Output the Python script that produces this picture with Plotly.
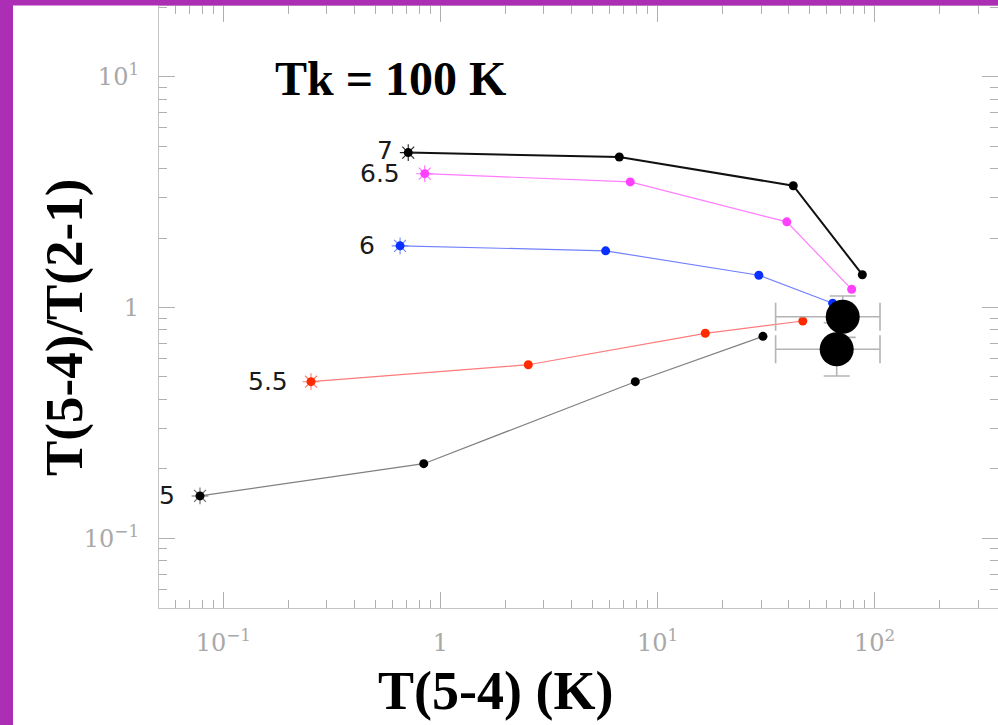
import math
import plotly.graph_objects as go

FIG_W, FIG_H = 998, 725
M_L, M_R, M_T, M_B = 159, 0, 6, 117

# Model tracks: T(5-4) [K] and T(5-4)/T(2-1), labelled by log density
track_labels = ["7", "6.5", "6", "5.5", "5"]
t54_7 = [0.711, 6.67, 42.2, 87.8]
ratio_7 = [4.69, 4.49, 3.37, 1.387]
t54_65 = [0.847, 7.49, 39.4, 78.4]
ratio_65 = [3.80, 3.50, 2.35, 1.199]
t54_6 = [0.652, 5.77, 29.3, 64.1]
ratio_6 = [1.85, 1.76, 1.379, 1.043]
t54_55 = [0.2535, 2.54, 16.6, 46.7]
ratio_55 = [0.477, 0.565, 0.773, 0.874]
t54_5 = [0.0781, 0.838, 7.90, 30.6]
ratio_5 = [0.1526, 0.2105, 0.477, 0.750]

# Observed points with errors
obs_t54 = [71.3, 66.9]
obs_t54_minus = [36.3, 31.9]
obs_t54_plus = [34.6, 39.0]
obs_ratio = [0.912, 0.659]
obs_ratio_minus = [0.17, 0.154]
obs_ratio_plus = [0.209, 0.20]

x_tickvals = [0.1, 1, 10, 100]
x_ticktext = ["10<sup>\u22121</sup>", "1", "10<sup>1</sup>", "10<sup>2</sup>"]
y_tickvals = [0.1, 1, 10]
y_ticktext = ["10<sup>\u22121</sup>", "1", "10<sup>1</sup>"]

tracks = [
    (t54_7, ratio_7, track_labels[0], "#111111", "#000000", 2.0, "#222222", -13, 2),
    (t54_65, ratio_65, track_labels[1], "#ff7cff", "#ff40ff", 1.2, "#ff70ff", -23, 0),
    (t54_6, ratio_6, track_labels[2], "#7080ff", "#0a30ff", 1.2, "#7084ff", -23, 0),
    (t54_55, ratio_55, track_labels[3], "#ff7a7a", "#ff2a00", 1.2, "#ff7a6a", -21, 0),
    (t54_5, ratio_5, track_labels[4], "#808080", "#000000", 1.2, "#666666", -23, 0),
]


def paper_x(px):
    return (px - M_L) / (FIG_W - M_L - M_R)


def paper_y(py):
    return (FIG_H - M_B - py) / (FIG_H - M_T - M_B)


fig = go.Figure()
annotations = []
for xs, ys, lab, lcol, mcol, lw, scol, xshift, yshift in tracks:
    fig.add_trace(go.Scatter(
        x=xs, y=ys, mode="lines", line=dict(color=lcol, width=lw),
        showlegend=False, hoverinfo="skip"))
    # starting point of each track: star behind the dot
    fig.add_trace(go.Scatter(
        x=[xs[0]], y=[ys[0]], mode="markers",
        marker=dict(symbol="asterisk-open", size=14, color=scol,
                    line=dict(color=scol, width=1.1)),
        showlegend=False, hoverinfo="skip"))
    fig.add_trace(go.Scatter(
        x=xs, y=ys, mode="markers",
        marker=dict(symbol="circle", size=9, color=mcol),
        showlegend=False))
    annotations.append(dict(
        x=math.log10(xs[0]), y=math.log10(ys[0]), xref="x", yref="y",
        text=lab, showarrow=False, xanchor="right", yanchor="middle",
        xshift=xshift, yshift=yshift,
        font=dict(family="DejaVu Sans", size=25, color="#1a1a1a")))

fig.add_trace(go.Scatter(
    x=obs_t54, y=obs_ratio, mode="markers",
    marker=dict(symbol="circle", size=34, color="#000000"),
    error_x=dict(type="data", symmetric=False, array=obs_t54_plus,
                 arrayminus=obs_t54_minus, color="#b4b4b4", thickness=1.6,
                 width=14),
    error_y=dict(type="data", symmetric=False, array=obs_ratio_plus,
                 arrayminus=obs_ratio_minus, color="#b4b4b4", thickness=1.6,
                 width=13),
    showlegend=False))

x_minor = [m * 10 ** e for e in range(-2, 3) for m in range(2, 10)]
y_minor = [m * 10 ** e for e in range(-2, 2) for m in range(2, 10)]

axis_common = dict(
    type="log", showgrid=False, zeroline=False,
    showline=True, linecolor="#c4c4c4", linewidth=1.2, mirror="allticks",
    ticks="inside", ticklen=16, tickwidth=1.2, tickcolor="#b0b0b0",
    tickfont=dict(family="DejaVu Serif", size=24, color="#a8a8a8"),
)

fig.update_xaxes(
    **axis_common, range=[-1.2962, 2.5684],
    tickvals=x_tickvals, ticktext=x_ticktext, ticklabelstandoff=13,
    minor=dict(tickvals=x_minor, ticks="inside", ticklen=8,
               tickcolor="#b0b0b0", tickwidth=1.1))
fig.update_yaxes(
    **axis_common, range=[-1.302, 1.3063],
    tickvals=y_tickvals, ticktext=y_ticktext, ticklabelstandoff=14,
    minor=dict(tickvals=y_minor, ticks="inside", ticklen=8,
               tickcolor="#b0b0b0", tickwidth=1.1))

annotations += [
    dict(text="<b>Tk = 100 K</b>", xref="paper", yref="paper",
         x=paper_x(390), y=paper_y(79), xanchor="center", yanchor="middle",
         showarrow=False,
         font=dict(family="Liberation Serif", size=48, color="#000000")),
    dict(text="<b>T(5-4) (K)</b>", xref="paper", yref="paper",
         x=paper_x(495), y=paper_y(691), xanchor="center", yanchor="middle",
         showarrow=False,
         font=dict(family="Liberation Serif", size=54, color="#000000")),
    dict(text="<b>T(5-4)/T(2-1)</b>", xref="paper", yref="paper",
         x=paper_x(64), y=paper_y(328), xanchor="center", yanchor="middle",
         textangle=-90, showarrow=False,
         font=dict(family="Liberation Serif", size=53, color="#000000")),
]

purple = "#ab2eb5"
shapes = [
    dict(type="rect", xref="paper", yref="paper", layer="above",
         x0=paper_x(0), x1=paper_x(13), y0=paper_y(FIG_H), y1=paper_y(0),
         fillcolor=purple, line=dict(width=0)),
    dict(type="rect", xref="paper", yref="paper", layer="above",
         x0=paper_x(0), x1=paper_x(FIG_W), y0=paper_y(5.5), y1=paper_y(0),
         fillcolor=purple, line=dict(width=0)),
]

fig.update_layout(
    width=FIG_W, height=FIG_H, autosize=False,
    margin=dict(l=M_L, r=M_R, t=M_T, b=M_B, pad=0),
    paper_bgcolor="#ffffff", plot_bgcolor="#ffffff",
    annotations=annotations, shapes=shapes, showlegend=False,
)

fig.write_html("out.html")
